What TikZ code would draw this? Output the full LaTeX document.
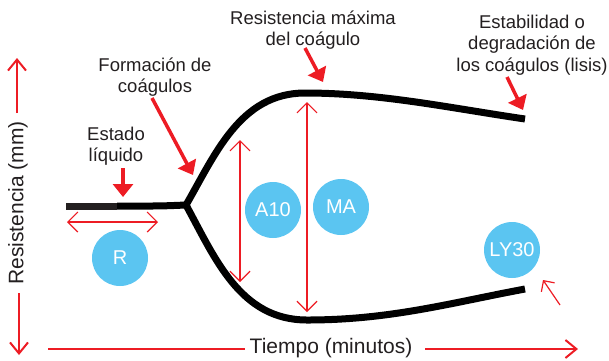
\documentclass[tikz,border=0pt]{standalone}
\usepackage{fontspec}
\setmainfont{Liberation Sans}
\usetikzlibrary{arrows.meta}
\definecolor{cred}{RGB}{237,28,36}
\definecolor{cblue}{RGB}{91,197,241}
\definecolor{ctext}{RGB}{35,31,32}
\begin{document}
\begin{tikzpicture}[x=1pt,y=-1pt,
  lbl/.style={text=ctext, font=\fontsize{18.5}{21.5}\selectfont, align=center, inner sep=0pt},
  axlbl/.style={text=ctext, font=\fontsize{21}{24}\selectfont, inner sep=0pt},
  disc/.style={circle, fill=cblue, minimum size=56pt, inner sep=0pt, text=white, font=\fontsize{20}{24}\selectfont},
  curveline/.style={line width=7pt, black},
  pointer/.style={cred, line width=3.5pt, -{Triangle[width=20pt,length=13pt]}},
  measure/.style={cred, line width=1.2pt, {Straight Barb[length=10pt,width=20pt]}-{Straight Barb[length=10pt,width=20pt]}},
  single/.style={cred, line width=1.2pt, -{Straight Barb[length=8pt,width=16pt]}},
  axisline/.style={cred, line width=2pt},
  axisarrow/.style={cred, line width=2pt, -{Straight Barb[length=11pt,width=18pt]}}]
\useasboundingbox (0,0) rectangle (609,360);

% curve
\coordinate (h0) at (66,206);
\coordinate (h1) at (117,206);
\coordinate (fork) at (186,205);
\coordinate (forktip) at (190,205);
\coordinate (top) at (305,93);
\coordinate (topend) at (525,119);
\coordinate (bot) at (307,320);
\coordinate (botend) at (525,289);
\draw[line width=7pt, ctext] (h0) -- (h1);
\draw[curveline] (h1) -- (150,206) .. controls (170,206) and (180,205) .. (forktip);
\draw[curveline] (fork) .. controls (215,155) and (240,93) .. (top)
  .. controls (380,93) and (450,108) .. (topend);
\draw[curveline] (fork) .. controls (215,258) and (240,320) .. (bot)
  .. controls (390,320) and (450,303) .. (botend);

% labels
\node[lbl] (estado) at (116,146) {Estado\\líquido};
\node[lbl] (formacion) at (155,77) {Formación de\\coágulos};
\node[lbl] (maxima) at (313,30) {Resistencia máxima\\del coágulo};
\node[lbl] (lisis) at (532,45) {Estabilidad o\\degradación de\\los coágulos (lisis)};
\node[axlbl, rotate=90] (yl) at (18,203) {Resistencia (mm)};
\node[axlbl] (xl) at (331,348) {Tiempo (minutos)};

% discs
\node[disc] (R) at (120,258) {R};
\node[disc] (A10) at (273,210) {A10};
\node[disc] (MA) at (341,207) {MA};
\node[disc] (LY30) at (512,250) {LY30};

% pointer arrows
\coordinate (p1a) at (123,168); \coordinate (p1b) at (123,197);
\coordinate (p2a) at (152,98);  \coordinate (p2b) at (193,175);
\coordinate (p3a) at (305,48);  \coordinate (p3b) at (323,82);
\coordinate (p4a) at (507,77);  \coordinate (p4b) at (523,110);
\draw[pointer] (p1a) -- (p1b);
\draw[pointer] (p2a) -- (p2b);
\draw[pointer] (p3a) -- (p3b);
\draw[pointer] (p4a) -- (p4b);

% measures
\coordinate (m1a) at (67,222);  \coordinate (m1b) at (158,222);
\coordinate (m2a) at (240,140); \coordinate (m2b) at (240,282);
\coordinate (m3a) at (307,102); \coordinate (m3b) at (307,312);
\coordinate (m4a) at (560,305); \coordinate (m4b) at (543,280);
\draw[measure] (m1a) -- (m1b);
\draw[measure] (m2a) -- (m2b);
\draw[measure] (m3a) -- (m3b);
\draw[single] (m4a) -- (m4b);

% axes
\coordinate (ya0) at (17,113); \coordinate (ya1) at (17,58);
\coordinate (yb0) at (19,293); \coordinate (yb1) at (19,355);
\coordinate (xa0) at (48,349); \coordinate (xa1) at (245,349);
\coordinate (xb0) at (425,349); \coordinate (xb1) at (578,349);
\draw[axisarrow] (ya0) -- (ya1);
\draw[axisarrow] (yb0) -- (yb1);
\draw[axisline] (xa0) -- (xa1);
\draw[axisarrow] (xb0) -- (xb1);
\end{tikzpicture}
\end{document}
